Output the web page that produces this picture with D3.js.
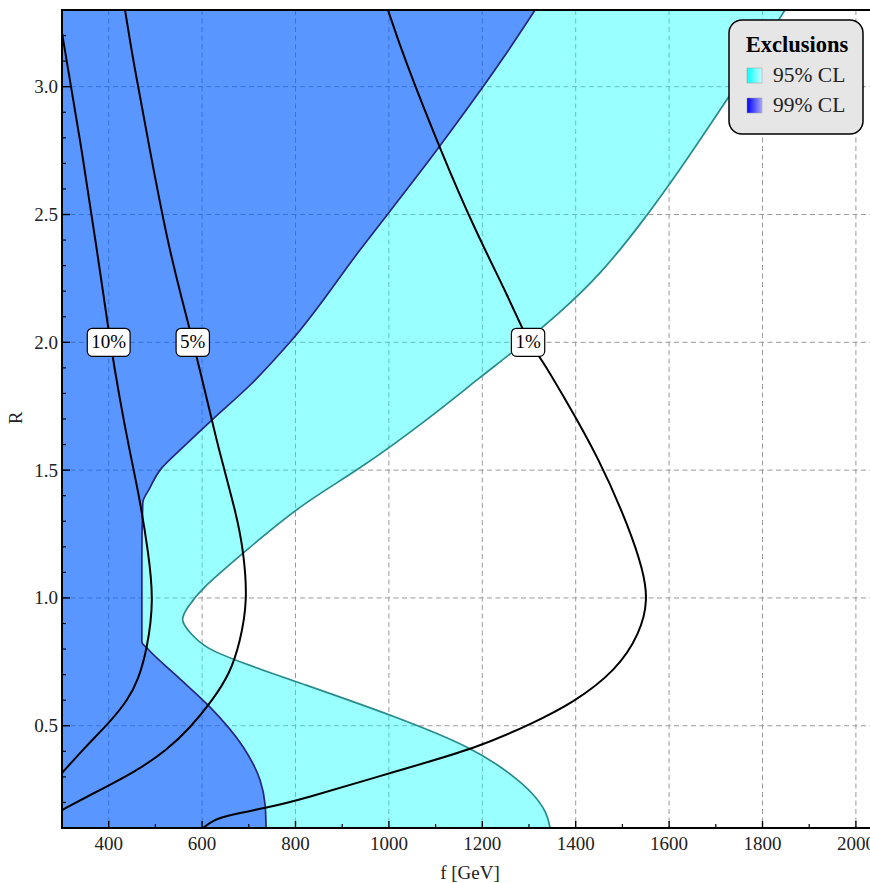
<!DOCTYPE html>
<html>
<head>
<meta charset="utf-8">
<script src="https://cdn.jsdelivr.net/npm/d3@7"></script>
<style>
  body { margin: 0; background: #fff; }
  svg { display: block; }
  text { font-family: "Liberation Serif", "Times New Roman", serif; }
</style>
</head>
<body>
<svg id="chart" width="870" height="883"></svg>
<script>
// ---------- data (f in GeV, R) ----------
const xTickValues = [400, 600, 800, 1000, 1200, 1400, 1600, 1800, 2000];
const xTickLabels = ["400", "600", "800", "1000", "1200", "1400", "1600", "1800", "2000"];
const xMinorTicks = [300, 500, 700, 900, 1100, 1300, 1500, 1700, 1900];
const yTickValues = [0.5, 1.0, 1.5, 2.0, 2.5, 3.0];
const yTickLabels = ["0.5", "1.0", "1.5", "2.0", "2.5", "3.0"];
const yMinorTicks = [0.2,0.3,0.4,0.6,0.7,0.8,0.9,1.1,1.2,1.3,1.4,1.6,1.7,1.8,1.9,2.1,2.2,2.3,2.4,2.6,2.7,2.8,2.9,3.1,3.2];

// 99% CL exclusion boundary (region to the left is excluded)
const cl99Boundary = [
  [1313,3.3],[1242,3.105],[1103,2.753],[938,2.361],[788,2.0],[703,1.833],[621,1.696],
  [553,1.579],[510,1.5],[488,1.43],[473,1.372],[471,1.149],[471,0.828],[482,0.804],
  [548,0.691],[617,0.573],[688,0.417],[724,0.288],[735,0.19],[737,0.1]
];
// 95% CL exclusion boundary
const cl95Boundary = [
  [1848,3.3],[1795,3.144],[1709,2.909],[1623,2.674],[1538,2.459],[1452,2.264],[1366,2.115],
  [1266,1.962],[1201,1.872],[1082,1.696],[935,1.5],[810,1.364],[688,1.176],[595,1.031],
  [568,0.961],[552,0.914],[574,0.863],[606,0.804],[681,0.749],[810,0.667],[1024,0.53],
  [1180,0.413],[1259,0.315],[1309,0.237],[1339,0.159],[1345,0.1]
];
// fine-tuning contours
const contour10 = [
  [300,3.21],[339,2.792],[375,2.361],[403,2.0],[424,1.775],[443,1.591],[467,1.383],
  [484,1.188],[497,0.992],[482,0.796],[463,0.679],[441,0.601],[403,0.515],[350,0.417],[300,0.315]
];
const contour5 = [
  [435,3.3],[452,3.105],[488,2.753],[525,2.4],[557,2.166],[581,2.0],[621,1.696],[636,1.579],
  [675,1.317],[688,1.188],[698,0.992],[681,0.824],[660,0.706],[623,0.601],[574,0.491],
  [525,0.405],[456,0.319],[381,0.249],[300,0.17]
];
const contour1 = [
  [998,3.3],[1034,3.105],[1112,2.745],[1184,2.44],[1259,2.166],[1298,2.0],[1324,1.943],
  [1366,1.814],[1452,1.54],[1516,1.266],[1544,1.109],[1555,0.992],[1538,0.863],[1488,0.718],
  [1394,0.589],[1309,0.511],[1189,0.413],[1024,0.327],[810,0.21],[739,0.18],[660,0.151],
  [623,0.131],[602,0.1]
];
const contourLabels = ["10%", "5%", "1%"];
const contourLabelF = [400, 580, 1298];
const contourLabelR = [2.0, 2.0, 2.0];
const legendTitle = "Exclusions";
const legendLabels = ["95% CL", "99% CL"];

// ---------- layout ----------
const svg = d3.select("#chart");
const pLeft = 62, pTop = 10, pBottom = 828, pRight = 870;
const x = d3.scaleLinear().domain([300, 2040]).range([pLeft, pLeft + 1740 * 0.467]);
const y = d3.scaleLinear().domain([0.1, 3.3]).range([pBottom, pTop]);

const defs = svg.append("defs");
defs.append("clipPath").attr("id", "plotclip").append("rect")
  .attr("x", pLeft).attr("y", pTop).attr("width", pRight - pLeft).attr("height", pBottom - pTop);

const g = svg.append("g").attr("clip-path", "url(#plotclip)");

// grid
g.selectAll(".vgrid").data(xTickValues).enter().append("line")
  .attr("x1", d => x(d)).attr("x2", d => x(d)).attr("y1", pTop).attr("y2", pBottom)
  .attr("stroke", "#9a9a9a").attr("stroke-width", 1).attr("stroke-dasharray", "5,3.5");
g.selectAll(".hgrid").data(yTickValues).enter().append("line")
  .attr("y1", d => y(d)).attr("y2", d => y(d)).attr("x1", pLeft).attr("x2", pRight)
  .attr("stroke", "#9a9a9a").attr("stroke-width", 1).attr("stroke-dasharray", "5,3.5");

const lineMono = d3.line().x(d => x(d[0])).y(d => y(d[1])).curve(d3.curveMonotoneY);
const lineSmooth = d3.line().x(d => x(d[0])).y(d => y(d[1])).curve(d3.curveBasis);

// fills
const fillPath = (gen, pts) => gen(pts) + "L" + x(250) + "," + y(0.1) + "L" + x(250) + "," + y(3.3) + "Z";
g.append("path").attr("d", fillPath(lineSmooth, cl95Boundary))
  .attr("fill", "#00ffff").attr("fill-opacity", 0.4).attr("stroke", "none");
g.append("path").attr("d", fillPath(lineMono, cl99Boundary))
  .attr("fill", "#0000ff").attr("fill-opacity", 0.41).attr("stroke", "none");
g.append("path").attr("d", lineSmooth(cl95Boundary)).attr("fill", "none")
  .attr("stroke", "#2a8a8a").attr("stroke-width", 1.7);
g.append("path").attr("d", lineMono(cl99Boundary)).attr("fill", "none")
  .attr("stroke", "#262680").attr("stroke-width", 1.7);

// contours
[contour10, contour5, contour1].forEach(c => {
  g.append("path").attr("d", lineSmooth(c)).attr("fill", "none")
    .attr("stroke", "#000").attr("stroke-width", 2);
});

// contour labels
contourLabels.forEach((t, i) => {
  const cx = x(contourLabelF[i]), cy = y(contourLabelR[i]);
  const lg = svg.append("g");
  const txt = lg.append("text").attr("x", cx).attr("y", cy + 6)
    .attr("text-anchor", "middle").attr("font-size", 19).text(t);
  const w = txt.node().getComputedTextLength() + 8;
  lg.insert("rect", "text").attr("x", cx - w / 2).attr("y", cy - 14).attr("width", w).attr("height", 28)
    .attr("rx", 5).attr("fill", "#fff").attr("stroke", "#000").attr("stroke-width", 1.2);
});

// frame
svg.append("line").attr("x1", pLeft).attr("x2", pRight).attr("y1", pTop).attr("y2", pTop)
  .attr("stroke", "#000").attr("stroke-width", 2);
svg.append("line").attr("x1", pLeft).attr("x2", pRight).attr("y1", pBottom).attr("y2", pBottom)
  .attr("stroke", "#000").attr("stroke-width", 2);
svg.append("line").attr("x1", pLeft).attr("x2", pLeft).attr("y1", pTop - 1).attr("y2", pBottom + 1)
  .attr("stroke", "#000").attr("stroke-width", 2);

// ticks (inside)
svg.selectAll(".xt").data(xTickValues).enter().append("line")
  .attr("x1", d => x(d)).attr("x2", d => x(d)).attr("y1", pBottom).attr("y2", pBottom - 7)
  .attr("stroke", "#000").attr("stroke-width", 1.4);
svg.selectAll(".xmt").data(xMinorTicks).enter().append("line")
  .attr("x1", d => x(d)).attr("x2", d => x(d)).attr("y1", pBottom).attr("y2", pBottom - 4)
  .attr("stroke", "#000").attr("stroke-width", 1.2);
svg.selectAll(".yt").data(yTickValues).enter().append("line")
  .attr("y1", d => y(d)).attr("y2", d => y(d)).attr("x1", pLeft).attr("x2", pLeft + 8)
  .attr("stroke", "#000").attr("stroke-width", 1.4);
svg.selectAll(".ymt").data(yMinorTicks).enter().append("line")
  .attr("y1", d => y(d)).attr("y2", d => y(d)).attr("x1", pLeft).attr("x2", pLeft + 4)
  .attr("stroke", "#000").attr("stroke-width", 1.2);

// tick labels
svg.selectAll(".xl").data(xTickValues).enter().append("text")
  .attr("x", d => x(d)).attr("y", 850).attr("text-anchor", "middle").attr("font-size", 19)
  .attr("fill", "#222").text((d, i) => xTickLabels[i]);
svg.selectAll(".yl").data(yTickValues).enter().append("text")
  .attr("x", 58).attr("y", d => y(d) + 6.5).attr("text-anchor", "end").attr("font-size", 19)
  .attr("fill", "#222").text((d, i) => yTickLabels[i]);

// axis titles
svg.append("text").attr("x", 470).attr("y", 879).attr("text-anchor", "middle")
  .attr("font-size", 19).attr("fill", "#222").text("f [GeV]");
svg.append("text").attr("transform", "translate(22,418) rotate(-90)")
  .attr("text-anchor", "middle").attr("font-size", 19).attr("fill", "#222").text("R");

// legend
const gr1 = defs.append("linearGradient").attr("id", "g95");
gr1.append("stop").attr("offset", "0%").attr("stop-color", "#00ffff");
gr1.append("stop").attr("offset", "100%").attr("stop-color", "#c8ffff");
const gr2 = defs.append("linearGradient").attr("id", "g99");
gr2.append("stop").attr("offset", "0%").attr("stop-color", "#0000ff");
gr2.append("stop").attr("offset", "100%").attr("stop-color", "#a8a8ff");

const lgd = svg.append("g");
lgd.append("rect").attr("x", 729).attr("y", 20).attr("width", 134).attr("height", 114)
  .attr("rx", 13).attr("fill", "#e6e6e6").attr("stroke", "#000").attr("stroke-width", 1.5);
lgd.append("text").attr("x", 797).attr("y", 52).attr("text-anchor", "middle")
  .attr("font-size", 22.5).attr("font-weight", "bold").text(legendTitle);
["url(#g95)", "url(#g99)"].forEach((f, i) => {
  lgd.append("rect").attr("x", 747).attr("y", 68 + i * 30).attr("width", 15).attr("height", 15)
    .attr("fill", f).attr("stroke", "#999").attr("stroke-width", 0.5);
  lgd.append("text").attr("x", 773).attr("y", 82 + i * 30).attr("font-size", 21.5)
    .attr("fill", "#222").text(legendLabels[i]);
});
</script>
</body>
</html>
